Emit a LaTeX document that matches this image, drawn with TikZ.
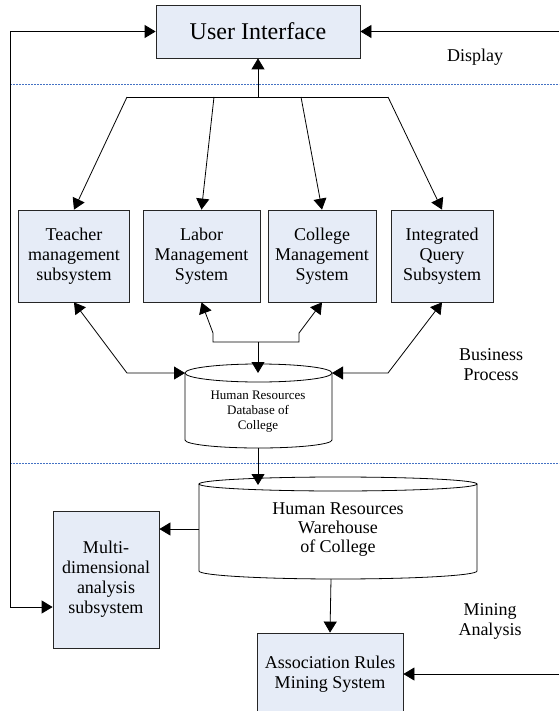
\documentclass[tikz,border=0pt]{standalone}
\usepackage{fontspec}
\setmainfont{Liberation Serif}
\usetikzlibrary{arrows.meta}

\definecolor{boxfill}{RGB}{230,236,247}
\definecolor{sepline}{RGB}{68,114,196}

\tikzset{
  subsys/.style={draw=black!85, fill=boxfill, line width=0.8pt, align=center,
    inner sep=0pt, font=\rmfamily\fontsize{18}{20}\selectfont},
  dbtext/.style={align=center, inner sep=0pt},
  lbl/.style={align=center, inner sep=0pt, font=\rmfamily\fontsize{18}{20}\selectfont},
  conn/.style={line width=0.8pt},
  arr/.style={conn, -{Triangle[length=11pt,width=13pt]}},
  twoway/.style={conn, {Triangle[length=11pt,width=13pt]}-{Triangle[length=11pt,width=13pt]}},
  cyl/.style={line width=0.8pt, fill=white},
  layer/.style={draw=sepline, line width=0.7pt, dash pattern=on 2pt off 1pt}
}

\begin{document}
\begin{tikzpicture}[x=1pt, y=-1pt]
  \useasboundingbox (0,0) rectangle (559,711);

  % Layers
  \draw[layer] (10,84) -- (559,84);
  \draw[layer] (10,463) -- (559,463);
  \node[lbl] (display) at (475,57) {Display};
  \node[lbl] (business) at (491,365) {Business\\Process};
  \node[lbl] (mining) at (490,621) {Mining\\Analysis};

  % Display layer
  \node[subsys, minimum width=204pt, minimum height=53pt,
    font=\rmfamily\fontsize{24}{26}\selectfont] (ui) at (258,31.5) {User Interface};

  % Business process layer
  \node[subsys, minimum width=111pt, minimum height=92pt] (teacher) at (74,256)
    {Teacher\\management\\subsystem};
  \node[subsys, minimum width=117pt, minimum height=92pt] (labor) at (201.5,256)
    {Labor\\Management\\System};
  \node[subsys, minimum width=108pt, minimum height=92pt] (college) at (322,256)
    {College\\Management\\System};
  \node[subsys, minimum width=102pt, minimum height=92pt] (query) at (442,256)
    {Integrated\\Query\\Subsystem};

  % Database
  \draw[cyl] (185,373) -- (185,440)
    arc[start angle=180, end angle=360, x radius=73.5pt, y radius=8pt] -- (332,373);
  \draw[cyl] (258.5,373) ellipse[x radius=73.5pt, y radius=9pt];
  \node[dbtext, font=\rmfamily\fontsize{13}{15}\selectfont] (db) at (258,412)
    {Human Resources\\Database of\\College};

  % Mining analysis layer
  \draw[cyl] (199,484) -- (199,571)
    arc[start angle=180, end angle=360, x radius=139pt, y radius=8pt] -- (477,484);
  \draw[cyl] (338,484) ellipse[x radius=139pt, y radius=7pt];
  \node[dbtext, font=\rmfamily\fontsize{18}{19}\selectfont] (wh) at (338,530)
    {Human Resources\\Warehouse\\of College};
  \node[subsys, minimum width=106pt, minimum height=137pt] (multi) at (106,579.5)
    {Multi-\\dimensional\\analysis\\subsystem};
  \node[subsys, minimum width=146pt, minimum height=82pt] (assoc) at (330,674)
    {Association Rules\\Mining System};

  % Connection points
  \coordinate (hub) at (258,97);
  \coordinate (fanA) at (127,97);
  \coordinate (fanB) at (214,97);
  \coordinate (fanC) at (301,97);
  \coordinate (fanD) at (388,97);
  \coordinate (busL) at (127,373);
  \coordinate (busR) at (388,373);
  \coordinate (dbL) at (185,373);
  \coordinate (dbR) at (332,373);
  \coordinate (dbT) at (258,373);
  \coordinate (dbB) at (258,448);
  \coordinate (brL) at (213,342);
  \coordinate (brM) at (258,342);
  \coordinate (brR) at (299,342);
  \coordinate (whT) at (258,485);
  \coordinate (whL) at (199,529);
  \coordinate (whB) at (331,579);
  \coordinate (loop) at (10,607);
  \coordinate (uiIn) at (559,31.5);
  \coordinate (arIn) at (559,674);

  % Connectors
  \draw[arr] (hub) -- (ui.south);
  \draw[conn] (fanA) -- (fanD);
  \draw[arr] (fanA) -- (teacher.north);
  \draw[arr] (fanB) -- (labor.north);
  \draw[arr] (fanC) -- (college.north);
  \draw[arr] (fanD) -- (query.north);
  \draw[twoway] (teacher.south) -- (busL) -- (dbL);
  \draw[twoway] (query.south) -- (busR) -- (dbR);
  \draw[twoway] (labor.south) -- (213,333) -- (brL) -- (brR) -- (299,333) -- (college.south);
  \draw[arr] (brM) -- (dbT);
  \draw[arr] (dbB) -- (whT);
  \draw[arr] (whL) -- (whL -| multi.east);
  \draw[arr] (whB) -- (assoc.north);
  \draw[twoway] (ui.west) -| (loop) -- (loop -| multi.west);
  \draw[arr] (uiIn) -- (ui.east);
  \draw[arr] (arIn) -- (assoc.east);
\end{tikzpicture}
\end{document}
